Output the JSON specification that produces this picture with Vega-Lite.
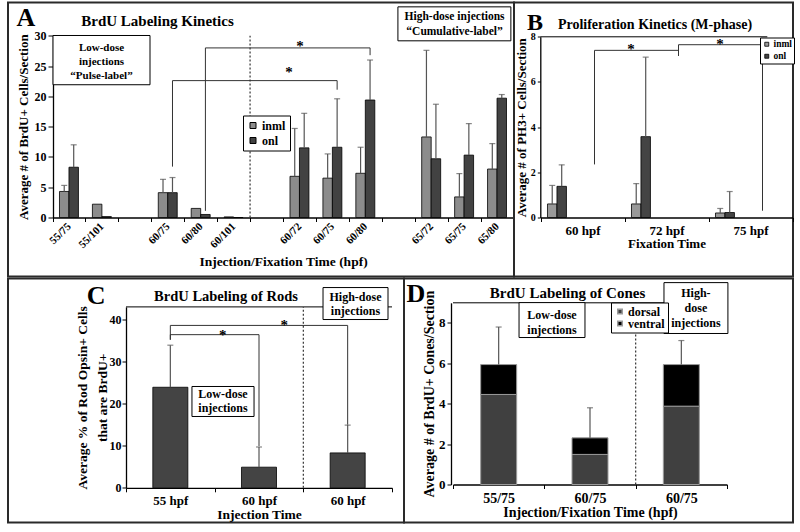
{
 "$schema": "https://vega.github.io/schema/vega-lite/v6.json",
 "background": "white",
 "padding": {"left": 2, "top": 1.5, "right": 6, "bottom": 6},
 "config": {
  "view": {"stroke": "#2a2a2a", "strokeWidth": 2},
  "axis": {"grid": false, "domainColor": "black", "domainWidth": 1.3, "tickColor": "black", "tickWidth": 1, "labelColor": "black", "titleColor": "black", "labelFont": "Liberation Serif", "titleFont": "Liberation Serif", "labelFontWeight": "bold", "titleFontWeight": "bold", "labelOverlap": false},
  "legend": {"labelFont": "Liberation Serif", "labelFontWeight": "bold", "labelColor": "black", "strokeColor": "black", "fillColor": "white", "symbolType": "square"},
  "text": {"font": "Liberation Serif", "fontWeight": "bold", "color": "black"}
 },
 "spacing": 0,
 "resolve": {"scale": {"color": "independent"}, "legend": {"color": "independent"}},
 "vconcat": [
  {
   "spacing": 0,
   "bounds": "flush",
   "resolve": {"scale": {"color": "independent"}, "legend": {"color": "independent"}},
   "hconcat": [
    {
     "width": 506, "height": 274,
     "resolve": {"scale": {"x": "independent", "y": "independent"}},
     "layer": [
      {
       "data": {"values": [
        {"cat": "55/75", "grp": "inml", "v": 4.3, "e": 5.3},
        {"cat": "55/75", "grp": "onl", "v": 8.3, "e": 12.0},
        {"cat": "55/101", "grp": "inml", "v": 2.2, "e": null},
        {"cat": "55/101", "grp": "onl", "v": 0.15, "e": null},
        {"cat": "L60/75", "grp": "inml", "v": 4.1, "e": 6.3},
        {"cat": "L60/75", "grp": "onl", "v": 4.1, "e": 6.6},
        {"cat": "L60/80", "grp": "inml", "v": 1.5, "e": null},
        {"cat": "L60/80", "grp": "onl", "v": 0.5, "e": null},
        {"cat": "L60/101", "grp": "inml", "v": 0.1, "e": null},
        {"cat": "L60/101", "grp": "onl", "v": 0.0, "e": null},
        {"cat": "H60/72", "grp": "inml", "v": 6.8, "e": 14.7},
        {"cat": "H60/72", "grp": "onl", "v": 11.5, "e": 17.2},
        {"cat": "H60/75", "grp": "inml", "v": 6.5, "e": 10.5},
        {"cat": "H60/75", "grp": "onl", "v": 11.6, "e": 19.6},
        {"cat": "H60/80", "grp": "inml", "v": 7.3, "e": 11.6},
        {"cat": "H60/80", "grp": "onl", "v": 19.4, "e": 26.0},
        {"cat": "65/72", "grp": "inml", "v": 13.3, "e": 27.6},
        {"cat": "65/72", "grp": "onl", "v": 9.7, "e": 18.7},
        {"cat": "65/75", "grp": "inml", "v": 3.4, "e": 7.25},
        {"cat": "65/75", "grp": "onl", "v": 10.3, "e": 15.5},
        {"cat": "65/80", "grp": "inml", "v": 8.0, "e": 12.2},
        {"cat": "65/80", "grp": "onl", "v": 19.7, "e": 20.3}
       ]},
       "layer": [
        {
         "mark": {"type": "bar", "stroke": "black", "strokeWidth": 0.8},
         "encoding": {
          "x": {"field": "cat", "type": "nominal",
           "scale": {"domain": ["55/75", "55/101", "g1", "L60/75", "L60/80", "L60/101", "g2", "H60/72", "H60/75", "H60/80", "g3", "65/72", "65/75", "65/80"], "range": [44.5, 505.5], "paddingInner": 0, "paddingOuter": 0},
           "axis": {"title": "Injection/Fixation Time (hpf)", "offset": -59, "labelAngle": -45, "labelAlign": "right", "labelBaseline": "middle", "labelFontSize": 11, "labelPadding": 3, "tickSize": 4, "tickBand": "extent", "labelExpr": "substring(datum.value,0,1) == 'g' ? '' : (substring(datum.value,0,1) == 'L' || substring(datum.value,0,1) == 'H') ? substring(datum.value,1) : datum.value", "titleFontSize": 13.5, "titlePadding": 5}},
          "xOffset": {"field": "grp", "type": "nominal", "scale": {"domain": ["inml", "onl"], "paddingInner": 0, "paddingOuter": 0.737}},
          "y": {"field": "v", "type": "quantitative",
           "scale": {"domain": [0, 30], "range": [215, 33.3], "zero": false, "nice": false},
           "axis": {"title": "Average # of BrdU+ Cells/Section", "offset": -45, "values": [0, 5, 10, 15, 20, 25, 30], "labelFontSize": 12, "tickSize": 5, "labelPadding": 2, "titleFontSize": 13, "titlePadding": 4}},
          "color": {"field": "grp", "type": "nominal", "scale": {"domain": ["inml", "onl"], "range": ["#8c8c8c", "#424242"]},
           "legend": {"orient": "none", "legendX": 235, "legendY": 113, "title": null, "labelFontSize": 12, "symbolSize": 36, "padding": 4, "rowPadding": 3, "labelOffset": 3, "symbolStrokeColor": "black", "symbolStrokeWidth": 1}}
         }
        },
        {
         "transform": [{"filter": "datum.e != null"}],
         "mark": {"type": "rule", "color": "#555555", "strokeWidth": 1.2},
         "encoding": {
          "x": {"field": "cat", "type": "nominal"},
          "xOffset": {"field": "grp", "type": "nominal"},
          "y": {"field": "v", "type": "quantitative"},
          "y2": {"field": "e"}
         }
        },
        {
         "transform": [{"filter": "datum.e != null"}],
         "mark": {"type": "tick", "color": "#555555", "size": 6, "thickness": 1.2},
         "encoding": {
          "x": {"field": "cat", "type": "nominal"},
          "xOffset": {"field": "grp", "type": "nominal"},
          "y": {"field": "e", "type": "quantitative"}
         }
        },
        {
         "data": {"values": [
          {"b": 1, "o": 1, "cat": "L60/75", "v": 8.4},
          {"b": 1, "o": 2, "cat": "L60/75", "v": 22.6},
          {"b": 1, "o": 3, "cat": "H60/75", "v": 22.6},
          {"b": 1, "o": 4, "cat": "H60/75", "v": 21.1},
          {"b": 2, "o": 1, "cat": "L60/80", "v": 1.1},
          {"b": 2, "o": 2, "cat": "L60/80", "v": 28.0},
          {"b": 2, "o": 3, "cat": "H60/80", "v": 28.0},
          {"b": 2, "o": 4, "cat": "H60/80", "v": 26.8}
         ]},
         "mark": {"type": "line", "color": "#333333", "strokeWidth": 1},
         "encoding": {
          "x": {"field": "cat", "type": "nominal", "bandPosition": 0.644},
          "y": {"field": "v", "type": "quantitative"},
          "detail": {"field": "b"},
          "order": {"field": "o", "type": "quantitative"}
         }
        }
       ]
      },
      {
       "data": {"values": [{}]},
       "layer": [
        {"mark": {"type": "rule", "color": "#333333", "strokeDash": [2, 2], "strokeWidth": 1.2},
         "encoding": {"x": {"datum": 5.5, "type": "quantitative", "scale": {"domain": [-0.5, 13.5], "range": [44.5, 505.5], "zero": false, "nice": false}, "axis": null},
          "y": {"datum": 0, "type": "quantitative", "scale": {"domain": [0, 30], "range": [215, 33.3], "zero": false, "nice": false}, "axis": null}, "y2": {"datum": 30}}},
        {"mark": {"type": "rect", "fill": "white", "stroke": "black", "strokeWidth": 1},
         "encoding": {"x": {"datum": -0.485, "type": "quantitative", "axis": null}, "x2": {"datum": 2.461},
          "y": {"datum": 21.92, "type": "quantitative", "axis": null}, "y2": {"datum": 30.05}}},
        {"mark": {"type": "rect", "fill": "white", "stroke": "black", "strokeWidth": 1},
         "encoding": {"x": {"datum": 9.99, "type": "quantitative", "axis": null}, "x2": {"datum": 13.42},
          "y": {"datum": 29.17, "type": "quantitative", "axis": null}, "y2": {"datum": 34.78}}},
        {"mark": {"type": "text", "text": "A", "fontSize": 26},
         "encoding": {"x": {"datum": -1.305, "type": "quantitative", "axis": null}, "y": {"datum": 32.97, "type": "quantitative", "axis": null}}},
        {"mark": {"type": "text", "text": "BrdU Labeling Kinetics", "fontSize": 15},
         "encoding": {"x": {"datum": 2.689, "type": "quantitative", "axis": null}, "y": {"datum": 32.4, "type": "quantitative", "axis": null}}},
        {"mark": {"type": "text", "text": ["Low-dose", "injections", "“Pulse-label”"], "fontSize": 11, "lineHeight": 14},
         "encoding": {"x": {"datum": 0.988, "type": "quantitative", "axis": null}, "y": {"datum": 28.02, "type": "quantitative", "axis": null}}},
        {"mark": {"type": "text", "text": ["High-dose injections", "“Cumulative-label”"], "fontSize": 11.5, "lineHeight": 15},
         "encoding": {"x": {"datum": 11.71, "type": "quantitative", "axis": null}, "y": {"datum": 33.13, "type": "quantitative", "axis": null}}},
        {"mark": {"type": "text", "text": "*", "fontSize": 15, "baseline": "alphabetic"},
         "encoding": {"x": {"datum": 6.68, "type": "quantitative", "axis": null}, "y": {"datum": 23.13, "type": "quantitative", "axis": null}}},
        {"mark": {"type": "text", "text": "*", "fontSize": 15, "baseline": "alphabetic"},
         "encoding": {"x": {"datum": 7.02, "type": "quantitative", "axis": null}, "y": {"datum": 27.41, "type": "quantitative", "axis": null}}}
       ]
      }
     ]
    },
    {
     "width": 279, "height": 274,
     "resolve": {"scale": {"x": "independent", "y": "independent"}},
     "layer": [
      {
       "data": {"values": [
        {"cat": "60 hpf", "grp": "inml", "v": 0.6, "e": 1.42},
        {"cat": "60 hpf", "grp": "onl", "v": 1.38, "e": 2.33},
        {"cat": "72 hpf", "grp": "inml", "v": 0.6, "e": 1.5},
        {"cat": "72 hpf", "grp": "onl", "v": 3.58, "e": 7.1},
        {"cat": "75 hpf", "grp": "inml", "v": 0.2, "e": 0.4},
        {"cat": "75 hpf", "grp": "onl", "v": 0.22, "e": 1.15}
       ]},
       "layer": [
        {
         "mark": {"type": "bar", "stroke": "black", "strokeWidth": 0.8},
         "encoding": {
          "x": {"field": "cat", "type": "nominal",
           "scale": {"domain": ["60 hpf", "72 hpf", "75 hpf"], "range": [26.5, 278.5], "paddingInner": 0, "paddingOuter": 0},
           "axis": {"title": "Fixation Time", "offset": -59, "labelAngle": 0, "labelFontSize": 13, "labelPadding": 3, "tickSize": 4, "tickBand": "extent", "titleFontSize": 13, "titlePadding": 0}},
          "xOffset": {"field": "grp", "type": "nominal", "scale": {"domain": ["inml", "onl"], "paddingInner": 0, "paddingOuter": 0.75}},
          "y": {"field": "v", "type": "quantitative",
           "scale": {"domain": [0, 8], "range": [215, 34.3], "zero": false, "nice": false},
           "axis": {"title": "Average # of PH3+ Cells/Section", "offset": -26.3, "values": [0, 1, 2, 3, 4, 5, 6, 7, 8], "labelFontSize": 10, "tickSize": 3, "labelPadding": 2, "titleFontSize": 13, "titlePadding": 2}},
          "color": {"field": "grp", "type": "nominal", "scale": {"domain": ["inml", "onl"], "range": ["#999999", "#444444"]},
           "legend": {"orient": "none", "legendX": 246, "legendY": 35, "title": null, "labelFontSize": 9.5, "symbolSize": 16, "padding": 2, "rowPadding": 1, "labelOffset": 2, "symbolStrokeColor": "black", "symbolStrokeWidth": 0.8}}
         }
        },
        {
         "mark": {"type": "rule", "color": "#555555", "strokeWidth": 1.2},
         "encoding": {
          "x": {"field": "cat", "type": "nominal"},
          "xOffset": {"field": "grp", "type": "nominal"},
          "y": {"field": "v", "type": "quantitative"},
          "y2": {"field": "e"}
         }
        },
        {
         "mark": {"type": "tick", "color": "#555555", "size": 6, "thickness": 1.2},
         "encoding": {
          "x": {"field": "cat", "type": "nominal"},
          "xOffset": {"field": "grp", "type": "nominal"},
          "y": {"field": "e", "type": "quantitative"}
         }
        },
        {
         "data": {"values": [
          {"b": 1, "o": 1, "cat": "60 hpf", "v": 2.35},
          {"b": 1, "o": 2, "cat": "60 hpf", "v": 7.4},
          {"b": 1, "o": 3, "cat": "72 hpf", "v": 7.4},
          {"b": 1, "o": 4, "cat": "72 hpf", "v": 7.15},
          {"b": 2, "o": 1, "cat": "72 hpf", "v": 7.2},
          {"b": 2, "o": 2, "cat": "72 hpf", "v": 7.65},
          {"b": 2, "o": 3, "cat": "75 hpf", "v": 7.65},
          {"b": 2, "o": 4, "cat": "75 hpf", "v": 0.3}
         ]},
         "mark": {"type": "line", "color": "#333333", "strokeWidth": 1},
         "encoding": {
          "x": {"field": "cat", "type": "nominal", "bandPosition": 0.643},
          "y": {"field": "v", "type": "quantitative"},
          "detail": {"field": "b"},
          "order": {"field": "o", "type": "quantitative"}
         }
        }
       ]
      },
      {
       "data": {"values": [{}]},
       "layer": [
        {"mark": {"type": "rule", "color": "black", "strokeWidth": 1},
         "encoding": {"x": {"datum": -0.5, "type": "quantitative", "scale": {"domain": [-0.5, 2.5], "range": [26.5, 278.5], "zero": false, "nice": false}, "axis": null}, "x2": {"datum": 2.2},
          "y": {"datum": 8, "type": "quantitative", "scale": {"domain": [0, 8], "range": [215, 34.3], "zero": false, "nice": false}, "axis": null}}},
        {"mark": {"type": "text", "text": "B", "fontSize": 24},
         "encoding": {"x": {"datum": -0.565, "type": "quantitative", "axis": null}, "y": {"datum": 8.63, "type": "quantitative", "axis": null}}},
        {"mark": {"type": "text", "text": "Proliferation Kinetics (M-phase)", "fontSize": 14},
         "encoding": {"x": {"datum": 0.863, "type": "quantitative", "axis": null}, "y": {"datum": 8.54, "type": "quantitative", "axis": null}}},
        {"mark": {"type": "text", "text": "*", "fontSize": 15, "baseline": "alphabetic"},
         "encoding": {"x": {"datum": 0.577, "type": "quantitative", "axis": null}, "y": {"datum": 7.22, "type": "quantitative", "axis": null}}},
        {"mark": {"type": "text", "text": "*", "fontSize": 15, "baseline": "alphabetic"},
         "encoding": {"x": {"datum": 1.637, "type": "quantitative", "axis": null}, "y": {"datum": 7.44, "type": "quantitative", "axis": null}}}
       ]
      }
     ]
    }
   ]
  },
  {
   "spacing": 0,
   "bounds": "flush",
   "resolve": {"scale": {"color": "independent"}, "legend": {"color": "independent"}},
   "hconcat": [
    {
     "width": 396, "height": 244,
     "resolve": {"scale": {"x": "independent", "y": "independent"}},
     "layer": [
      {
       "data": {"values": [
        {"cat": "55 hpf", "v": 23.9, "e": 33.9},
        {"cat": "L60 hpf", "v": 4.9, "e": 9.7},
        {"cat": "H60 hpf", "v": 8.3, "e": 14.9}
       ]},
       "layer": [
        {
         "mark": {"type": "bar", "fill": "#444444", "stroke": "black", "strokeWidth": 0.8, "width": {"band": 0.395}},
         "encoding": {
          "x": {"field": "cat", "type": "nominal",
           "scale": {"domain": ["55 hpf", "L60 hpf", "H60 hpf"], "range": [118, 384], "paddingInner": 0, "paddingOuter": 0},
           "axis": {"title": "Injection Time", "offset": -34.7, "labelAngle": 0, "labelFontSize": 13, "labelPadding": 3, "tickSize": 4, "tickBand": "extent", "labelExpr": "(substring(datum.value,0,1) == 'L' || substring(datum.value,0,1) == 'H') ? substring(datum.value,1) : datum.value", "titleFontSize": 13.5, "titlePadding": 0}},
          "y": {"field": "v", "type": "quantitative",
           "scale": {"domain": [0, 43], "range": [209.3, 28.4], "zero": false, "nice": false},
           "axis": {"title": ["Average % of Rod Opsin+ Cells", "that are BrdU+"], "offset": -118, "values": [0, 5, 10, 15, 20, 25, 30, 35, 40], "labelFontSize": 12, "tickSize": 4, "labelPadding": 1, "titleFontSize": 13.5, "titlePadding": 0, "titleLineHeight": 20}}
         }
        },
        {
         "mark": {"type": "rule", "color": "#555555", "strokeWidth": 1.2},
         "encoding": {
          "x": {"field": "cat", "type": "nominal"},
          "y": {"field": "v", "type": "quantitative"},
          "y2": {"field": "e"}
         }
        },
        {
         "mark": {"type": "tick", "color": "#555555", "size": 6, "thickness": 1.2},
         "encoding": {
          "x": {"field": "cat", "type": "nominal"},
          "y": {"field": "e", "type": "quantitative"}
         }
        },
        {
         "data": {"values": [
          {"b": 1, "o": 1, "cat": "55 hpf", "v": 35.2},
          {"b": 1, "o": 2, "cat": "55 hpf", "v": 38.6},
          {"b": 1, "o": 3, "cat": "H60 hpf", "v": 38.6},
          {"b": 1, "o": 4, "cat": "H60 hpf", "v": 15.0},
          {"b": 2, "o": 1, "cat": "55 hpf", "v": 35.2},
          {"b": 2, "o": 2, "cat": "55 hpf", "v": 36.4},
          {"b": 2, "o": 3, "cat": "L60 hpf", "v": 36.4},
          {"b": 2, "o": 4, "cat": "L60 hpf", "v": 9.9}
         ]},
         "mark": {"type": "line", "color": "#333333", "strokeWidth": 1},
         "encoding": {
          "x": {"field": "cat", "type": "nominal"},
          "y": {"field": "v", "type": "quantitative"},
          "detail": {"field": "b"},
          "order": {"field": "o", "type": "quantitative"}
         }
        }
       ]
      },
      {
       "data": {"values": [{}]},
       "layer": [
        {"mark": {"type": "rule", "color": "black", "strokeWidth": 1},
         "encoding": {"x": {"datum": -0.5, "type": "quantitative", "scale": {"domain": [-0.5, 2.5], "range": [118, 384], "zero": false, "nice": false}, "axis": null}, "x2": {"datum": 2.5},
          "y": {"datum": 43, "type": "quantitative", "scale": {"domain": [0, 43], "range": [209.3, 28.4], "zero": false, "nice": false}, "axis": null}}},
        {"mark": {"type": "rule", "color": "#333333", "strokeDash": [2, 2], "strokeWidth": 1.2},
         "encoding": {"x": {"datum": 1.5, "type": "quantitative", "axis": null},
          "y": {"datum": 0, "type": "quantitative", "axis": null}, "y2": {"datum": 43}}},
        {"mark": {"type": "rect", "fill": "white", "stroke": "black", "strokeWidth": 1},
         "encoding": {"x": {"datum": 1.722, "type": "quantitative", "axis": null}, "x2": {"datum": 2.455},
          "y": {"datum": 40.0, "type": "quantitative", "axis": null}, "y2": {"datum": 47.6}}},
        {"mark": {"type": "rect", "fill": "white", "stroke": "black", "strokeWidth": 1},
         "encoding": {"x": {"datum": 0.244, "type": "quantitative", "axis": null}, "x2": {"datum": 0.944},
          "y": {"datum": 16.95, "type": "quantitative", "axis": null}, "y2": {"datum": 24.08}}},
        {"mark": {"type": "text", "text": "C", "fontSize": 26},
         "encoding": {"x": {"datum": -0.838, "type": "quantitative", "axis": null}, "y": {"datum": 45.7, "type": "quantitative", "axis": null}}},
        {"mark": {"type": "text", "text": "BrdU Labeling of Rods", "fontSize": 14.5},
         "encoding": {"x": {"datum": 0.628, "type": "quantitative", "axis": null}, "y": {"datum": 45.3, "type": "quantitative", "axis": null}}},
        {"mark": {"type": "text", "text": ["High-dose", "injections"], "fontSize": 12, "lineHeight": 14},
         "encoding": {"x": {"datum": 2.088, "type": "quantitative", "axis": null}, "y": {"datum": 45.47, "type": "quantitative", "axis": null}}},
        {"mark": {"type": "text", "text": ["Low-dose", "injections"], "fontSize": 12, "lineHeight": 14},
         "encoding": {"x": {"datum": 0.594, "type": "quantitative", "axis": null}, "y": {"datum": 22.34, "type": "quantitative", "axis": null}}},
        {"mark": {"type": "text", "text": "*", "fontSize": 15, "baseline": "alphabetic"},
         "encoding": {"x": {"datum": 1.285, "type": "quantitative", "axis": null}, "y": {"datum": 37.6, "type": "quantitative", "axis": null}}},
        {"mark": {"type": "text", "text": "*", "fontSize": 15, "baseline": "alphabetic"},
         "encoding": {"x": {"datum": 0.59, "type": "quantitative", "axis": null}, "y": {"datum": 35.2, "type": "quantitative", "axis": null}}}
       ]
      }
     ]
    },
    {
     "width": 389, "height": 244,
     "resolve": {"scale": {"x": "independent", "y": "independent"}},
     "layer": [
      {
       "layer": [
        {
         "data": {"values": [
          {"cat": "55/75", "part": "dorsal", "v": 4.46},
          {"cat": "55/75", "part": "ventral", "v": 1.48},
          {"cat": "60/75", "part": "dorsal", "v": 1.49},
          {"cat": "60/75", "part": "ventral", "v": 0.82},
          {"cat": "H60/75", "part": "dorsal", "v": 3.88},
          {"cat": "H60/75", "part": "ventral", "v": 2.06}
         ]},
         "mark": {"type": "bar", "stroke": "#9a9a9a", "strokeWidth": 1, "width": {"band": 0.394}},
         "encoding": {
          "x": {"field": "cat", "type": "nominal",
           "scale": {"domain": ["55/75", "60/75", "H60/75"], "range": [49, 323], "paddingInner": 0, "paddingOuter": 0},
           "axis": {"title": "Injection/Fixation Time (hpf)", "offset": -38, "labelAngle": 0, "labelFontSize": 14, "labelPadding": 3, "tickSize": 4, "tickBand": "extent", "labelExpr": "substring(datum.value,0,1) == 'H' ? substring(datum.value,1) : datum.value", "titleFontSize": 14, "titlePadding": 0}},
          "y": {"field": "v", "type": "quantitative",
           "scale": {"domain": [0, 9], "range": [206, 24.3], "zero": false, "nice": false},
           "axis": {"title": "Average # of BrdU+ Cones/Section", "offset": -47, "values": [0, 1, 2, 3, 4, 5, 6, 7, 8, 9], "labelFontSize": 13, "tickSize": 4, "labelPadding": 2, "titleFontSize": 14, "titlePadding": 2}},
          "color": {"field": "part", "type": "nominal", "scale": {"domain": ["dorsal", "ventral"], "range": ["#404040", "#000000"]},
           "legend": {"orient": "none", "legendX": 207, "legendY": 24, "title": null, "labelFontSize": 12, "symbolSize": 20, "padding": 3, "rowPadding": 0, "labelOffset": 2}},
          "order": {"field": "part"}
         }
        },
        {
         "data": {"values": [
          {"cat": "55/75", "tot": 5.94, "e": 7.8},
          {"cat": "60/75", "tot": 2.31, "e": 3.8},
          {"cat": "H60/75", "tot": 5.94, "e": 7.13}
         ]},
         "layer": [
          {
           "mark": {"type": "rule", "color": "#555555", "strokeWidth": 1.2},
           "encoding": {
            "x": {"field": "cat", "type": "nominal"},
            "y": {"field": "tot", "type": "quantitative"},
            "y2": {"field": "e"}
           }
          },
          {
           "mark": {"type": "tick", "color": "#555555", "size": 6, "thickness": 1.2},
           "encoding": {
            "x": {"field": "cat", "type": "nominal"},
            "y": {"field": "e", "type": "quantitative"}
           }
          }
         ]
        }
       ]
      },
      {
       "data": {"values": [{}]},
       "layer": [
        {"mark": {"type": "rule", "color": "black", "strokeWidth": 1},
         "encoding": {"x": {"datum": -0.5, "type": "quantitative", "scale": {"domain": [-0.5, 2.5], "range": [49, 323], "zero": false, "nice": false}, "axis": null}, "x2": {"datum": 2.5},
          "y": {"datum": 9, "type": "quantitative", "scale": {"domain": [0, 9], "range": [206, 24.3], "zero": false, "nice": false}, "axis": null}}},
        {"mark": {"type": "rule", "color": "#333333", "strokeDash": [2, 2], "strokeWidth": 1.2},
         "encoding": {"x": {"datum": 1.5, "type": "quantitative", "axis": null},
          "y": {"datum": 0, "type": "quantitative", "axis": null}, "y2": {"datum": 9}}},
        {"mark": {"type": "rect", "fill": "white", "stroke": "black", "strokeWidth": 1},
         "encoding": {"x": {"datum": 0.223, "type": "quantitative", "axis": null}, "x2": {"datum": 0.945},
          "y": {"datum": 7.28, "type": "quantitative", "axis": null}, "y2": {"datum": 9.01}}},
        {"mark": {"type": "rect", "fill": "white", "stroke": "black", "strokeWidth": 1},
         "encoding": {"x": {"datum": 1.81, "type": "quantitative", "axis": null}, "x2": {"datum": 2.51},
          "y": {"datum": 7.48, "type": "quantitative", "axis": null}, "y2": {"datum": 10.0}}},
        {"mark": {"type": "text", "text": "D", "fontSize": 26},
         "encoding": {"x": {"datum": -0.905, "type": "quantitative", "axis": null}, "y": {"datum": 9.46, "type": "quantitative", "axis": null}}},
        {"mark": {"type": "text", "text": "BrdU Labeling of Cones", "fontSize": 15},
         "encoding": {"x": {"datum": 0.754, "type": "quantitative", "axis": null}, "y": {"datum": 9.49, "type": "quantitative", "axis": null}}},
        {"mark": {"type": "text", "text": ["Low-dose", "injections"], "fontSize": 12, "lineHeight": 15},
         "encoding": {"x": {"datum": 0.584, "type": "quantitative", "axis": null}, "y": {"datum": 8.42, "type": "quantitative", "axis": null}}},
        {"mark": {"type": "text", "text": ["High-", "dose", "injections"], "fontSize": 12, "lineHeight": 15},
         "encoding": {"x": {"datum": 2.16, "type": "quantitative", "axis": null}, "y": {"datum": 9.49, "type": "quantitative", "axis": null}}}
       ]
      }
     ]
    }
   ]
  }
 ]
}
